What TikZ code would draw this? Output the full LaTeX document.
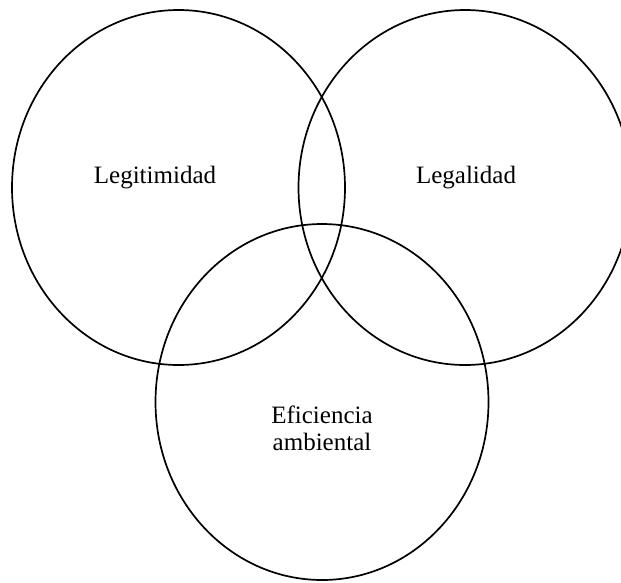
\documentclass[tikz,border=0pt]{standalone}
\usepackage{fontspec}
\setmainfont{Liberation Serif}
\tikzset{
  venn/.style={draw=black, line width=1.7pt},
  lbl/.style={font=\fontsize{25}{27}\selectfont, align=center, inner sep=0pt}
}
\begin{document}
\begin{tikzpicture}[x=1pt,y=-1pt]
\useasboundingbox (0,0) rectangle (621,582);
\clip (0,0) rectangle (621,582);
\fill[white] (0,0) rectangle (621,582);
\draw[venn] (178.5,187.5) ellipse [x radius=166.5, y radius=177.5];
\draw[venn] (465,187.5) ellipse [x radius=166.5, y radius=177.5];
\draw[venn] (322,402) ellipse [x radius=166.5, y radius=178];
\node[lbl] (a) at (155,178) {Legitimidad};
\node[lbl] (b) at (466,178) {Legalidad};
\node[lbl] (c) at (322,428) {Eficiencia\\ambiental};
\end{tikzpicture}
\end{document}
